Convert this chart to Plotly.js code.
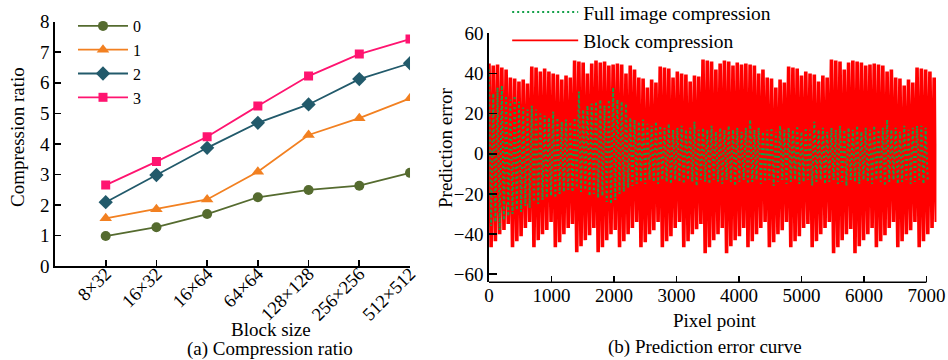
<!DOCTYPE html>
<html>
<head>
<meta charset="utf-8">
<script src="https://cdn.plot.ly/plotly-3.0.1.min.js"></script>
<style>html,body{margin:0;padding:0;background:#fff;}#chart{width:948px;height:360px;}</style>
</head>
<body>
<div id="chart"></div>
<script>
// ---------- Data: (a) Compression ratio ----------
const blockSizes = ['8×32','16×32','16×64','64×64','128×128','256×256','512×512'];
const seriesNames = ['0','1','2','3'];
const ratio0 = [0.98, 1.27, 1.70, 2.25, 2.49, 2.63, 3.05];
const ratio1 = [1.56, 1.86, 2.18, 3.09, 4.29, 4.84, 5.49];
const ratio2 = [2.09, 2.98, 3.87, 4.69, 5.29, 6.12, 6.64];
const ratio3 = [2.65, 3.42, 4.23, 5.24, 6.22, 6.94, 7.43];

// ---------- Data: (b) Prediction error curve (peak values read per oscillation) ----------
const blockTop = [
 45, 44, 44.5, 43, 42,   38, 37.5, 36, 37, 35,   43.5, 43, 41, 42.5, 41,   40, 39.5, 37, 39, 38,
 46.5, 46, 45.5, 40, 45,   46.5, 45.5, 46, 44, 44.5,   45, 44.5, 40, 44, 42,   38, 37.5, 33, 37, 35.5,
 43.5, 43, 42.5, 38, 41,   40, 39.5, 36, 39, 38.5,   47, 46.5, 46, 42, 45,   46.5, 46, 44, 45.5, 44.5,
 45, 44.5, 44, 40, 42,   38, 37.5, 33, 37, 35.5,   43.5, 43, 42.5, 39, 41,   40, 39.5, 36, 39, 38,
 47, 46.5, 46, 42, 45.5,   46.5, 46, 45.5, 44, 44.5,   45, 44.5, 44, 41, 42,   38, 37.5, 34, 37, 35.5,
 43, 42.5, 42, 41, 38
];
const blockBottom = [
 -46.5, -43.5, -40, -38, -35,   -46.5, -43.5, -41, -37, -34,   -46.5, -43, -40, -38, -34,   -46.5, -44, -40, -37, -35,
 -49, -46, -43, -40.5, -37,   -49, -46.5, -43, -40, -38,   -46.5, -43.5, -40, -37, -34,   -46.5, -44, -40, -38, -34,
 -46.5, -43.5, -41, -37, -34,   -46.5, -43.5, -40, -37.5, -35,   -49.5, -46.5, -43, -40, -37,   -49.5, -46, -43, -41, -37,
 -46.5, -43.5, -40, -37, -34,   -46.5, -44, -40, -38, -34,   -46.5, -43.5, -41, -37, -35,   -46.5, -43.5, -40, -37, -34,
 -49.5, -46.5, -43, -40, -37.5,   -49.5, -46, -43, -40, -37,   -46.5, -43.5, -40.5, -37, -34,   -46.5, -43.5, -40, -38, -34,
 -46.5, -43.5, -40, -37, -34
];
const fullTop = [
 42, 30, 33, 34, 29,   27, 29, 26, 23, 22,   24, 22, 20, 19, 18,   21, 18, 16, 17, 16,
 18, 31, 22, 24, 25,   26, 27, 24, 27, 33,   27, 26, 25, 18, 17,   16, 17, 15, 14, 16,
 14, 13, 15, 12, 13,   14, 12, 13, 16, 12,   13, 12, 14, 11, 13,   12, 14, 12, 13, 11,
 13, 17, 12, 13, 11,   12, 13, 11, 14, 12,   13, 12, 14, 11, 13,   12, 16, 12, 13, 11,
 13, 12, 14, 12, 13,   12, 14, 11, 13, 12,   14, 12, 13, 17, 12,   13, 11, 14, 12, 13,
 14, 14, 13
];
const fullBottom = [
 -36, -34, -38, -33, -31,   -30, -28, -29, -26, -27,   -24, -25, -23, -22, -21,   -22, -20, -19, -18, -19,
 -17, -19, -18, -21, -20,   -22, -21, -24, -25, -23,   -20, -19, -17, -16, -15,   -14, -15, -13, -14, -15,
 -13, -14, -15, -13, -14,   -15, -13, -14, -16, -13,   -14, -15, -13, -14, -15,   -13, -14, -16, -14, -13,
 -15, -14, -13, -15, -14,   -13, -16, -14, -13, -15,   -14, -13, -15, -14, -13,   -16, -14, -13, -15, -14,
 -13, -15, -14, -16, -13,   -14, -15, -13, -14, -15,   -13, -14, -16, -14, -13,   -15, -14, -13, -15, -14,
 -13, -15, -14
];
const pixelTicks = [0, 1000, 2000, 3000, 4000, 5000, 6000, 7000];
const errorTicks = [-60, -40, -20, 0, 20, 40, 60];

// sample spacing (pixel points) between successive peaks
const STEP = 68.5;
function zigzag(tops, bottoms) {
  const x = [], y = [];
  for (let i = 0; i < tops.length; i++) {
    x.push(i * STEP); y.push(tops[i]);
    x.push(i * STEP + STEP / 2); y.push(bottoms[i]);
  }
  return {x, y};
}
const blockCurve = zigzag(blockTop, blockBottom);
const fullCurve = zigzag(fullTop, fullBottom);

const FONT = 'Liberation Serif, Times New Roman, serif';
const colors = ['#556B2F', '#F28021', '#225A6B', '#FF1470'];
const symbols = ['circle', 'triangle-up', 'diamond', 'square'];
const sizes = [10, 11, 11, 9];
const ratios = [ratio0, ratio1, ratio2, ratio3];

const traces = ratios.map((r, k) => ({
  type: 'scatter', mode: 'lines+markers', name: seriesNames[k],
  x: blockSizes, y: r, xaxis: 'x', yaxis: 'y', legend: 'legend',
  line: {color: colors[k], width: 1.8},
  marker: {symbol: symbols[k], size: sizes[k], color: colors[k]}
}));

// dense block-compression curve (drawn thick so the dense oscillation reads as solid)
traces.push({
  type: 'scatter', mode: 'lines', name: 'Block compression',
  x: blockCurve.x, y: blockCurve.y, xaxis: 'x2', yaxis: 'y2', legend: 'legend2',
  showlegend: false, line: {color: '#FF0000', width: 3.6}
});
// legend entry for the block curve with the thin line style of the original key
traces.push({
  type: 'scatter', mode: 'lines', name: 'Block compression',
  x: [blockCurve.x[0]], y: [null], xaxis: 'x2', yaxis: 'y2', legend: 'legend2',
  legendrank: 2, hoverinfo: 'skip', line: {color: '#FF0000', width: 1.6}
});
traces.push({
  type: 'scatter', mode: 'lines', name: 'Full image compression',
  x: fullCurve.x, y: fullCurve.y, xaxis: 'x2', yaxis: 'y2', legend: 'legend2',
  legendrank: 1, line: {color: '#12A048', width: 2, dash: '2px,3px'}
});

const axisCommon = {
  showline: true, linecolor: '#000', linewidth: 1.6, ticks: 'inside', tickcolor: '#000',
  tickwidth: 1.6, showgrid: false, zeroline: false, tickfont: {family: FONT, size: 19, color: '#000'}
};
const txt = {family: FONT, size: 19, color: '#000'};
function label(text, xpx, ypx, angle) {
  return {text, xref: 'paper', yref: 'paper', x: xpx / 948, y: 1 - ypx / 360,
          xanchor: 'center', yanchor: 'middle', showarrow: false, textangle: angle || 0, font: txt};
}

const layout = {
  width: 948, height: 360,
  margin: {l: 0, r: 0, t: 0, b: 0, autoexpand: false},
  paper_bgcolor: '#fff', plot_bgcolor: 'rgba(0,0,0,0)',
  font: txt,
  showlegend: true,
  xaxis: Object.assign({}, axisCommon, {
    domain: [0.0580, 0.4325], anchor: 'y', type: 'category', range: [-1, 6],
    ticklen: 6, tickangle: -45, ticklabelstandoff: -12, tickfont: {family: FONT, size: 18.5, color: '#000'}
  }),
  yaxis: Object.assign({}, axisCommon, {
    domain: [0.2611, 0.9397], anchor: 'x', range: [0, 8], dtick: 1, ticklen: 6
  }),
  xaxis2: Object.assign({}, axisCommon, {
    domain: [0.5158, 0.9878], anchor: 'y2', range: [0, 7160], showline: false,
    tickvals: pixelTicks, ticklen: 6
  }),
  yaxis2: Object.assign({}, axisCommon, {
    domain: [0.2158, 0.9075], anchor: 'x2', range: [-64, 60], tickvals: errorTicks, ticklen: 8
  }),
  legend: {
    x: 0.077, xanchor: 'left', y: 0.975, yanchor: 'top', bgcolor: 'rgba(0,0,0,0)',
    font: {family: FONT, size: 16, color: '#000'}, itemwidth: 50, tracegroupgap: 0
  },
  legend2: {
    x: 0.535, xanchor: 'left', y: 1.02, yanchor: 'top', bgcolor: 'rgba(0,0,0,0)',
    font: {family: FONT, size: 19.5, color: '#000'}, itemwidth: 66, tracegroupgap: 0
  },
  shapes: [{
    type: 'line', xref: 'x2', yref: 'y2 domain', x0: 0, x1: 7000, y0: 0, y1: 0,
    line: {color: '#000', width: 1.6}
  }],
  annotations: [
    label('Compression ratio', 17, 137, -90),
    label('Block size', 271, 329),
    label('(a) Compression ratio', 270, 349),
    label('Prediction error', 445, 148, -90),
    label('Pixel point', 715, 320),
    label('(b) Prediction error curve', 705, 347)
  ]
};

Plotly.newPlot('chart', traces, layout, {displayModeBar: false, staticPlot: true});
</script>
</body>
</html>
